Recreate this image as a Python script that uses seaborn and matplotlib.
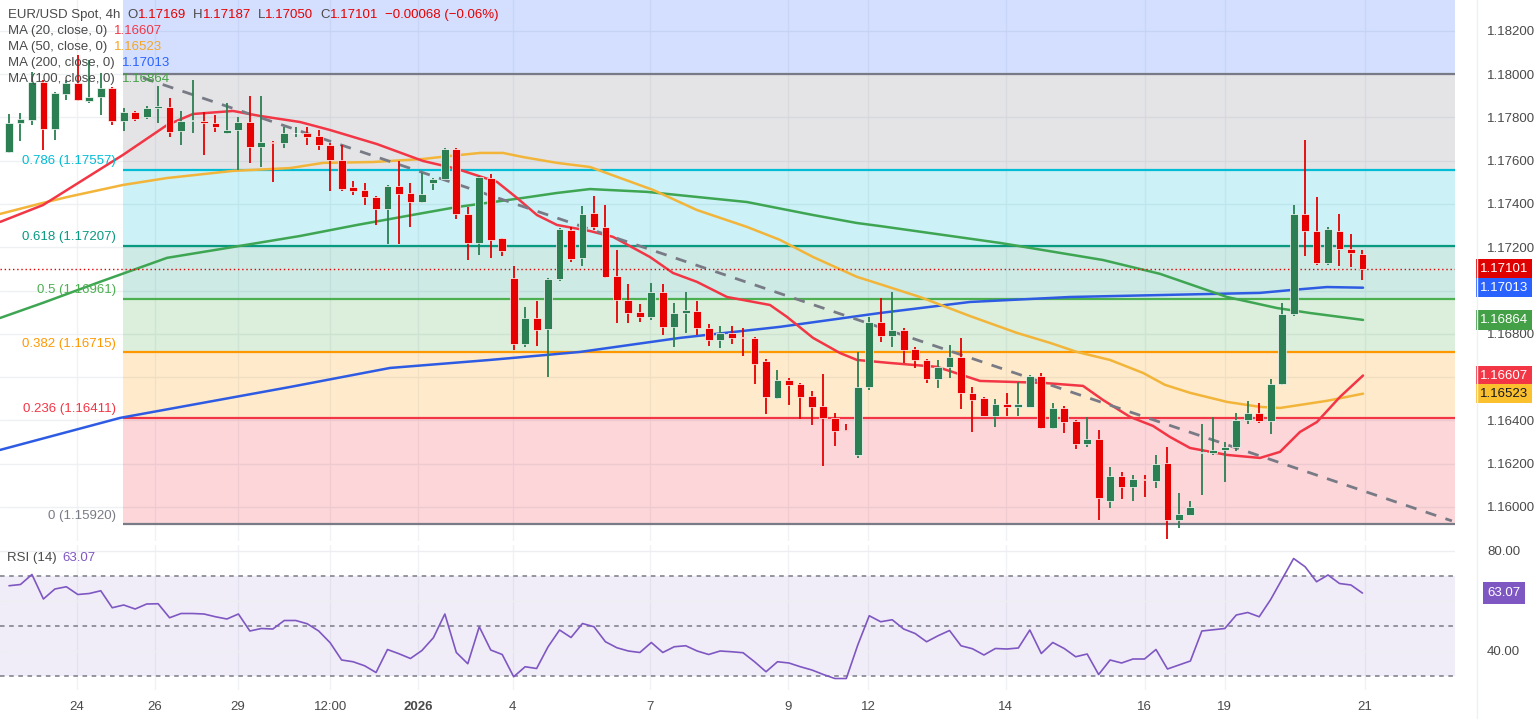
import numpy as np
import pandas as pd
import matplotlib
matplotlib.use("Agg")
import matplotlib.pyplot as plt
import matplotlib.transforms as mtrans
import seaborn as sns

# ---------------- data ----------------
opens = [1.17641,1.17775,1.17788,1.17964,1.17747,1.17909,1.17959,1.17876,1.17895,1.17936,
 1.17784,1.17825,1.17802,1.17844,1.17848,1.17738,1.17784,1.17784,1.17775,1.17728,
 1.17742,1.17779,1.17664,1.17687,1.17682,1.17726,1.17728,1.17714,1.17673,1.17604,
 1.17479,1.17465,1.17432,1.17377,1.17483,1.17451,1.17409,1.17497,1.17516,1.17654,
 1.17352,1.17220,1.17520,1.17243,1.17058,1.16753,1.16873,1.16822,1.17053,1.17280,
 1.17151,1.17358,1.17294,1.17067,1.16957,1.16901,1.16878,1.16993,1.16832,1.16896,
 1.16906,1.16827,1.16772,1.16804,1.16785,1.16781,1.16675,1.16503,1.16587,1.16568,
 1.16513,1.16466,1.16411,1.16353,1.16240,1.16554,1.16855,1.16790,1.16818,1.16730,
 1.16679,1.16591,1.16647,1.16693,1.16527,1.16503,1.16420,1.16476,1.16462,1.16462,
 1.16605,1.16365,1.16457,1.16397,1.16291,1.16314,1.16027,1.16143,1.16092,1.16129,
 1.16120,1.16203,1.15940,1.15963,1.16249,1.16249,1.16263,1.16277,1.16402,1.16434,
 1.16397,1.16568,1.16892,1.17354,1.17275,1.17127,1.17275,1.17192,1.17169]
highs = [1.17816,1.17821,1.18010,1.17973,1.17918,1.17973,1.18089,1.18066,1.18006,1.17941,
 1.17844,1.17830,1.17853,1.17946,1.17890,1.17830,1.17973,1.17825,1.17811,1.17867,
 1.17802,1.17899,1.17899,1.17690,1.17756,1.17756,1.17756,1.17742,1.17682,1.17673,
 1.17507,1.17497,1.17435,1.17488,1.17599,1.17497,1.17543,1.17518,1.17659,1.17659,
 1.17386,1.17528,1.17539,1.17245,1.17114,1.16924,1.16952,1.17058,1.17290,1.17294,
 1.17391,1.17437,1.17395,1.17188,1.17030,1.16938,1.17035,1.17030,1.16943,1.16993,
 1.16952,1.16845,1.16836,1.16836,1.16827,1.16785,1.16684,1.16633,1.16596,1.16573,
 1.16536,1.16614,1.16434,1.16383,1.16716,1.16878,1.16966,1.16993,1.16827,1.16739,
 1.16682,1.16679,1.16748,1.16781,1.16554,1.16508,1.16499,1.16527,1.16577,1.16610,
 1.16619,1.16480,1.16466,1.16402,1.16416,1.16356,1.16185,1.16161,1.16148,1.16148,
 1.16240,1.16277,1.16064,1.16027,1.16383,1.16416,1.16300,1.16434,1.16490,1.16480,
 1.16591,1.16943,1.17395,1.17696,1.17432,1.17294,1.17354,1.17261,1.17187]
lows = [1.17636,1.17691,1.17765,1.17650,1.17696,1.17881,1.17878,1.17867,1.17811,1.17765,
 1.17738,1.17784,1.17793,1.17775,1.17710,1.17673,1.17728,1.17627,1.17733,1.17724,
 1.17557,1.17590,1.17571,1.17502,1.17659,1.17710,1.17673,1.17650,1.17460,1.17460,
 1.17442,1.17395,1.17303,1.17215,1.17215,1.17294,1.17405,1.17465,1.17510,1.17331,
 1.17141,1.17164,1.17151,1.17160,1.16725,1.16739,1.16744,1.16601,1.17044,1.17132,
 1.17114,1.17280,1.17060,1.16850,1.16850,1.16855,1.16864,1.16795,1.16739,1.16804,
 1.16795,1.16744,1.16735,1.16753,1.16698,1.16568,1.16430,1.16500,1.16471,1.16406,
 1.16379,1.16189,1.16282,1.16349,1.16226,1.16540,1.16762,1.16739,1.16665,1.16642,
 1.16573,1.16550,1.16596,1.16453,1.16346,1.16418,1.16369,1.16420,1.16420,1.16460,
 1.16362,1.16362,1.16342,1.16268,1.16277,1.15940,1.15995,1.16036,1.16027,1.16046,
 1.16087,1.15852,1.15903,1.15960,1.16055,1.16240,1.16115,1.16258,1.16383,1.16388,
 1.16337,1.16565,1.16883,1.17160,1.17118,1.17118,1.17114,1.17109,1.17050]
closes = [1.17775,1.17793,1.17964,1.17747,1.17913,1.17959,1.17881,1.17895,1.17936,1.17784,
 1.17825,1.17793,1.17844,1.17853,1.17733,1.17784,1.17786,1.17775,1.17756,1.17742,
 1.17779,1.17664,1.17687,1.17682,1.17728,1.17728,1.17710,1.17673,1.17604,1.17469,
 1.17460,1.17432,1.17377,1.17483,1.17446,1.17409,1.17446,1.17516,1.17654,1.17352,
 1.17220,1.17525,1.17234,1.17183,1.16753,1.16873,1.16818,1.17053,1.17285,1.17146,
 1.17352,1.17294,1.17063,1.16957,1.16896,1.16878,1.16993,1.16832,1.16896,1.16910,
 1.16827,1.16772,1.16804,1.16781,1.16781,1.16661,1.16508,1.16587,1.16564,1.16508,
 1.16462,1.16411,1.16351,1.16351,1.16554,1.16855,1.16790,1.16818,1.16725,1.16679,
 1.16591,1.16647,1.16693,1.16527,1.16494,1.16420,1.16476,1.16462,1.16476,1.16605,
 1.16365,1.16457,1.16392,1.16291,1.16314,1.16041,1.16143,1.16092,1.16129,1.16124,
 1.16198,1.15940,1.15967,1.15999,1.16254,1.16263,1.16277,1.16402,1.16434,1.16397,
 1.16568,1.16892,1.17354,1.17275,1.17127,1.17285,1.17192,1.17174,1.17101]

ma20_idx = [-0.78,2.96,9.94,13.78,16.04,19.53,21.88,25.37,27.99,32.08,36.09,39.06,42.55,44.29,46.03,
 47.78,50.65,52.66,55.88,57.89,59.98,62.6,66.35,67.83,70.1,72.45,73.93,76.81,80.91,84.66,90.15,93.64,
 95.38,97.73,99.74,101.22,102.97,106.19,109.07,110.81,112.55,114.03,116.04,118.05]
ma20_val = [1.17317,1.17395,1.17627,1.17765,1.17816,1.17830,1.17807,1.17779,1.17742,1.17677,1.17599,
 1.17562,1.17502,1.17428,1.17349,1.17303,1.17275,1.17248,1.17155,1.17081,1.17040,1.16970,1.16933,
 1.16878,1.16781,1.16711,1.16679,1.16665,1.16647,1.16582,1.16573,1.16559,1.16494,1.16416,1.16374,
 1.16323,1.16272,1.16240,1.16226,1.16254,1.16346,1.16392,1.16508,1.16607]
ma50_idx = [-0.78,2.96,5.06,9.94,13.78,19.53,24.5,27.38,31.74,36.09,38.45,41.06,43.07,44.81,47.78,
 50.65,56.15,59.98,64.34,67.22,70.1,73.93,75.07,79.42,83.78,87.88,90.76,93.11,95.99,98.87,100.78,
 102.97,106.19,109.07,110.81,112.55,114.9,118.05]
ma50_val = [1.17354,1.17405,1.17432,1.17488,1.17520,1.17553,1.17566,1.17590,1.17594,1.17608,1.17622,
 1.17636,1.17636,1.17617,1.17590,1.17571,1.17465,1.17372,1.17294,1.17234,1.17155,1.17063,1.17044,
 1.16970,1.16882,1.16804,1.16758,1.16716,1.16679,1.16619,1.16564,1.16527,1.16485,1.16462,1.16457,
 1.16471,1.16490,1.16523]
ma100_idx = [-0.78,2.96,7.93,13.78,19.53,25.37,30.34,36.09,39.06,44.81,47.78,50.65,55.62,64.34,70.1,
 73.93,75.94,86.4,95.38,100.35,106.19,110.55,113.43,118.05]
ma100_val = [1.16873,1.16943,1.17040,1.17151,1.17201,1.17252,1.17303,1.17358,1.17386,1.17428,1.17451,
 1.17469,1.17456,1.17409,1.17349,1.17312,1.17298,1.17220,1.17141,1.17077,1.16970,1.16919,1.16896,1.16864]
ma200_idx = [-0.78,9.68,24.5,33.22,41.93,49.78,58.5,67.22,75.94,83.78,92.5,101.22,109.07,111.95,114.9,118.05]
ma200_val = [1.16263,1.16411,1.16554,1.16642,1.16679,1.16716,1.16781,1.16832,1.16896,1.16947,1.16970,
 1.16980,1.16989,1.17003,1.17016,1.17013]

rsi = [66.0,66.5,70.5,60.7,64.7,65.6,62.5,62.9,64.0,57.2,58.3,56.7,58.7,58.8,53.2,54.9,54.9,54.7,53.6,52.7,
 54.7,47.9,48.9,48.7,52.1,52.1,50.8,47.9,43.2,36.3,35.6,34.0,31.3,40.5,38.8,36.9,40.1,45.2,54.7,39.3,
 34.8,49.6,40.3,38.5,29.6,33.6,32.9,41.6,48.3,45.3,50.9,49.6,43.6,41.2,39.9,39.3,43.3,39.3,41.6,42.0,
 39.9,38.5,39.9,
 39.6,39.2,35.6,31.6,35.6,35.1,33.6,32.3,30.5,28.9,28.9,42.3,54.0,51.6,52.4,48.7,46.9,43.6,46.0,48.1,
 42.0,40.8,38.3,40.9,40.7,41.1,48.3,38.9,43.3,40.9,37.6,38.7,30.5,36.3,35.1,36.7,36.7,40.5,32.7,34.3,
 35.9,47.9,48.4,48.9,54.3,55.3,53.6,60.5,68.7,76.9,73.6,67.6,70.3,66.9,66.3,63.07]

fib_ratios = ["1", "0.786", "0.618", "0.5", "0.382", "0.236", "0"]
fib_levels = [1.18003, 1.17557, 1.17207, 1.16961, 1.16715, 1.16411, 1.15920]
fib_colors = ["#787b86", "#00bcd4", "#089981", "#4caf50", "#ff9800", "#f23645", "#787b86"]
trend_idx = [11.68, 125.8]
trend_val = [1.17983, 1.15935]
tick_pos = [5.93, 12.74, 19.96, 28.0, 35.7, 43.9, 55.9, 67.9, 74.9, 86.9, 99.0, 106.0, 118.2]
tick_lab = ["24", "26", "29", "12:00", "2026", "4", "7", "9", "12", "14", "16", "19", "21"]
price_ticks = [1.160, 1.162, 1.164, 1.168, 1.172, 1.174, 1.176, 1.178, 1.180, 1.182]
grid_prices = [1.160, 1.162, 1.164, 1.166, 1.168, 1.170, 1.172, 1.174, 1.176, 1.178, 1.180, 1.182]
last_close = 1.17101

# ---------------- style ----------------
sns.set_theme(style="white")
plt.rcParams['font.family'] = ['Liberation Sans', 'DejaVu Sans']
GREEN, RED = "#2b7f52", "#e60000"
TXT = "#4a4a4a"
FS = 9.5
W, H = 1536, 719
fig = plt.figure(figsize=(W/100, H/100), dpi=100)
ax = fig.add_axes([0, 1-541/H, 1455/W, 541/H])
ax2 = fig.add_axes([0, 1-690/H, 1455/W, 145/H], sharex=ax)
XL = (-0.785, 126.07)
ax.set_xlim(*XL)
ax.set_ylim(1.15842, 1.18343)
ax2.set_ylim(24.3, 82.3)
for a in (ax, ax2):
    for s in a.spines.values():
        s.set_visible(False)
    a.set_facecolor("white")
    for t in tick_pos:
        a.axvline(t, color="#f0f2f5", lw=1, zorder=0)

for v in grid_prices:
    ax.axhline(v, color="#eef0f3", lw=1, zorder=0)
ax.yaxis.tick_right()
ax.set_yticks(price_ticks)
ax.set_yticklabels([f"{v:.5f}" for v in price_ticks], color=TXT, fontsize=FS)
ax.tick_params(axis="y", length=0, pad=23)
ax.tick_params(axis="x", length=0, labelbottom=False)

# fib bands
fib_start = 9.94
xmin_f = (fib_start - XL[0]) / (XL[1] - XL[0])
band_tops = [1.18343] + fib_levels[:-1]
band_cols = ["#2962ff"] + fib_colors[:-1]
for top, bot, c in zip(band_tops, fib_levels, band_cols):
    ax.axhspan(bot, top, xmin=xmin_f, xmax=1, color=c, alpha=0.2, lw=0, zorder=0.5)
for r, lv, c in zip(fib_ratios, fib_levels, fib_colors):
    ax.hlines(lv, fib_start, XL[1], color=c, lw=1.6, zorder=1)
    if r != "1":
        ax.text(fib_start - 0.6, lv + 0.00012, f"{r} ({lv:.5f})", color=c, fontsize=FS,
                ha="right", va="bottom", zorder=3)

# MAs
for idx, val, col in [(ma200_idx, ma200_val, "#2d5be3"), (ma100_idx, ma100_val, "#3ea552"),
                      (ma50_idx, ma50_val, "#f2b53a"), (ma20_idx, ma20_val, "#f23645")]:
    sns.lineplot(x=idx, y=val, ax=ax, color=col, lw=1.8, zorder=2)
ax.plot(trend_idx, trend_val, color="#787b86", lw=2, ls=(0, (4, 3.5)), zorder=2)

# candles
df = pd.DataFrame({"o": opens, "h": highs, "l": lows, "c": closes})
df["k"] = np.arange(len(df))
for r in df.itertuples():
    col = GREEN if r.c >= r.o else RED
    ax.vlines(r.k, r.l, r.h, color=col, lw=1.3, zorder=4)
    lo, hi = min(r.o, r.c), max(r.o, r.c)
    ax.bar(r.k, max(hi - lo, 0.00003), bottom=lo, width=0.68, color=col,
           edgecolor="white", linewidth=0.5, zorder=5)
ax.axhline(last_close, color=RED, lw=1, ls=(0, (1, 2)), zorder=3)

# right badges
tr = mtrans.blended_transform_factory(ax.transAxes, ax.transData)
badge_x = 1504 / 1455
for v, bg, fg in [(1.17101, "#e00000", "white"), (1.17013, "#2962ff", "white"),
                  (1.16864, "#43a047", "white"), (1.16607, "#f23645", "white"),
                  (1.16523, "#fbc02d", "#131722")]:
    ax.text(badge_x, v, f"{v:.5f}", transform=tr, ha="center", va="center", fontsize=FS,
            color=fg, clip_on=False, zorder=10,
            bbox=dict(boxstyle="square,pad=0.28", fc=bg, ec="none"))

# RSI
ax2.axhspan(30, 70, color="#7e57c2", alpha=0.1, lw=0, zorder=0)
for v in (40, 60, 80):
    ax2.axhline(v, color="#eceef2", lw=1, zorder=0.5)
for v in (70, 50, 30):
    ax2.axhline(v, color="#787b86", lw=1.1, ls=(0, (3, 3)), zorder=1)
sns.lineplot(x=np.arange(len(rsi)), y=rsi, ax=ax2, color="#7e57c2", lw=1.2, zorder=3)
ax2.yaxis.tick_right()
ax2.set_yticks([40, 80])
ax2.set_yticklabels(["40.00", "80.00"], color=TXT, fontsize=FS)
ax2.tick_params(axis="y", length=0, pad=23)
ax2.set_xticks(tick_pos)
ax2.set_xticklabels(tick_lab, color=TXT, fontsize=FS)
ax2.get_xticklabels()[4].set_fontweight("bold")
ax2.tick_params(axis="x", length=0, pad=8)
tr2 = mtrans.blended_transform_factory(ax2.transAxes, ax2.transData)
ax2.text(badge_x, 63.07, "63.07", transform=tr2, ha="center", va="center", fontsize=FS,
         color="white", clip_on=False, zorder=10,
         bbox=dict(boxstyle="square,pad=0.35", fc="#7e57c2", ec="none"))
fig.add_artist(plt.Line2D([1477/W, 1477/W], [0, 1], color="#eef0f3", lw=1))

# header / legend rows, laid out sequentially
renderer = fig.canvas.get_renderer()

def row(x, y, parts):
    for s, c, gap in parts:
        t = fig.text(x / W, 1 - y / H, s, color=c, fontsize=FS, va="center", ha="left", zorder=20)
        bb = t.get_window_extent(renderer)
        x = x + bb.width + gap

row(8, 15, [("EUR/USD Spot, 4h", TXT, 7), ("O", TXT, 0), ("1.17169", RED, 7),
            ("H", TXT, 0), ("1.17187", RED, 7), ("L", TXT, 0), ("1.17050", RED, 7),
            ("C", TXT, 0), ("1.17101", RED, 7), ("\u22120.00068 (\u22120.06%)", RED, 0)])
for y, lab, val, c in [(31, "MA (20, close, 0)", "1.16607", "#f23645"),
                       (47, "MA (50, close, 0)", "1.16523", "#f5a623"),
                       (63, "MA (200, close, 0)", "1.17013", "#2962ff"),
                       (79, "MA (100, close, 0)", "1.16864", "#43a047")]:
    row(8, y, [(lab, TXT, 7), (val, c, 0)])
row(7, 558, [("RSI (14)", TXT, 6), ("63.07", "#7e57c2", 0)])

fig.savefig("out.png", dpi=100)
